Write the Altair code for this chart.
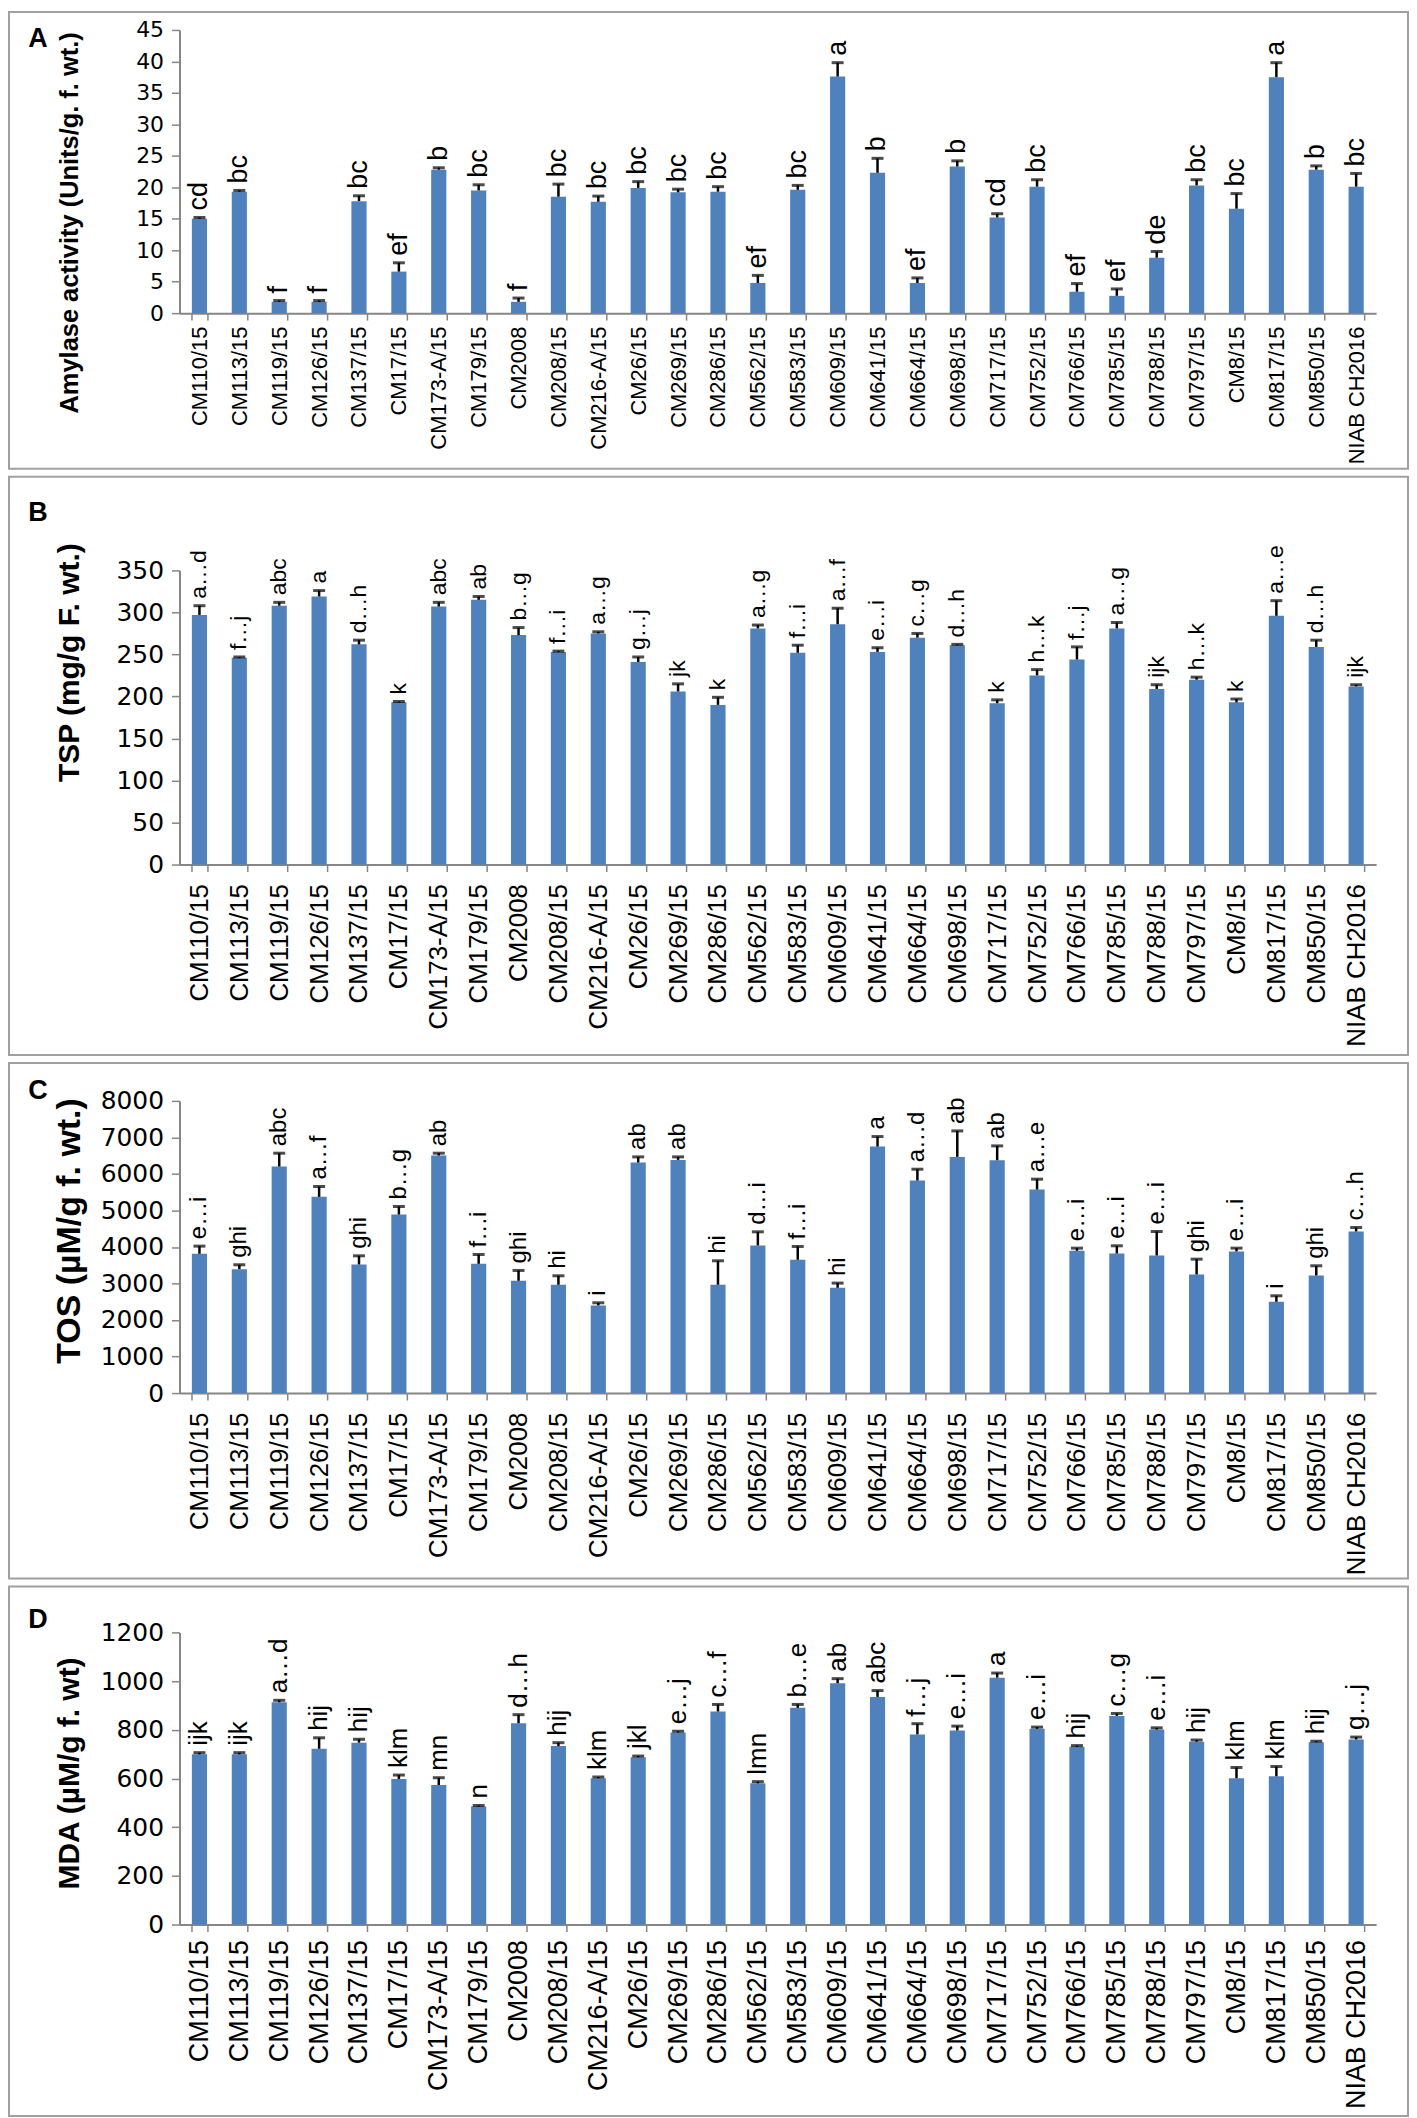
import altair as alt
import pandas as pd

categories = ["CM110/15", "CM113/15", "CM119/15", "CM126/15", "CM137/15", "CM17/15",
              "CM173-A/15", "CM179/15", "CM2008", "CM208/15", "CM216-A/15", "CM26/15",
              "CM269/15", "CM286/15", "CM562/15", "CM583/15", "CM609/15", "CM641/15",
              "CM664/15", "CM698/15", "CM717/15", "CM752/15", "CM766/15", "CM785/15",
              "CM788/15", "CM797/15", "CM8/15", "CM817/15", "CM850/15", "NIAB CH2016"]

amylase = [15.0, 19.3, 1.8, 1.8, 17.8, 6.6, 22.8, 19.5, 1.8, 18.5, 17.7, 19.9, 19.2, 19.3, 4.8,
           19.6, 37.6, 22.3, 4.8, 23.3, 15.2, 20.1, 3.4, 2.75, 8.8, 20.3, 16.6, 37.5, 22.8, 20.1]
amylase_err = [0.2, 0.2, 0.2, 0.2, 0.85, 1.4, 0.3, 0.9, 0.6, 2.0, 0.9, 1.0, 0.5, 0.8, 1.2,
               0.7, 2.2, 2.3, 0.8, 0.9, 0.6, 1.1, 1.3, 1.1, 1.0, 0.9, 2.4, 2.3, 0.6, 2.1]
amylase_letters = ["cd", "bc", "f", "f", "bc", "ef", "b", "bc", "f", "bc", "bc", "bc", "bc", "bc", "ef",
                   "bc", "a", "b", "ef", "b", "cd", "bc", "ef", "ef", "de", "bc", "bc", "a", "b", "bc"]

tsp = [297, 246, 308, 319, 262, 193, 307, 315, 273, 253, 275, 241, 206, 190, 281,
       252, 286, 253, 270, 261, 192, 225, 244, 281, 209, 220, 193, 296, 259, 212]
tsp_err = [11, 1, 4, 7, 5, 1, 5, 4, 9, 1, 2, 6, 9, 9, 4,
           9, 19, 5, 5, 1, 4, 7, 15, 7, 5, 3, 4, 18, 8, 2]
tsp_letters = ["a…d", "f…j", "abc", "a", "d…h", "k", "abc", "ab", "b…g", "f…i", "a…g", "g…j", "jk", "k", "a…g",
               "f…i", "a…f", "e…i", "c…g", "d…h", "k", "h…k", "f…j", "a…g", "ijk", "h…k", "k", "a…e", "d…h", "ijk"]

tos = [3813, 3393, 6203, 5373, 3521, 4889, 6504, 3539, 3074, 2965, 2399, 6312, 6385, 2965, 4041,
       3649, 2883, 6750, 5820, 6467, 6376, 5574, 3895, 3822, 3767, 3247, 3877, 2499, 3220, 4424]
tos_err = [210, 120, 365, 283, 237, 219, 64, 255, 283, 246, 73, 155, 82, 657, 374,
           365, 128, 274, 310, 711, 392, 283, 73, 210, 657, 420, 91, 164, 265, 110]
tos_letters = ["e…i", "ghi", "abc", "a…f", "ghi", "b…g", "ab", "f…i", "ghi", "hi", "i", "ab", "ab", "hi", "d…i",
               "f…i", "hi", "a", "a…d", "ab", "ab", "a…e", "e…i", "e…i", "e…i", "ghi", "e…i", "i", "ghi", "c…h"]

mda = [699, 699, 913, 722, 747, 598, 573, 485, 827, 733, 601, 687, 789, 875, 580,
       890, 991, 935, 781, 797, 1014, 804, 730, 857, 801, 751, 601, 609, 749, 760]
mda_err = [7, 7, 8, 45, 14, 16, 30, 4, 35, 14, 5, 5, 5, 29, 7,
           14, 19, 26, 44, 18, 19, 7, 5, 10, 7, 7, 44, 40, 4, 10]
mda_letters = ["ijk", "ijk", "a…d", "hij", "hij", "klm", "mn", "n", "d…h", "hij", "klm", "jkl", "e…j", "c…f", "lmn",
               "b…e", "ab", "abc", "f…j", "e…i", "a", "e…i", "hij", "c…g", "e…i", "hij", "klm", "klm", "hij", "g…j"]

BAR = "#4F81BD"
AXIS = "#868686"
BOX = "#A0A0A0"
FONT = "Liberation Sans"
TICKFONT = "DejaVu Sans"
W = 1200


def panel(vals, errs, letters, ymax, ystep, title, tag, h, box_top, box_bot,
          tag_y, label_size, label_pad, tick_size, title_size, title_y, letter_size):
    df = pd.DataFrame({"cat": categories, "v": vals, "e": errs, "lab": letters})
    df["top"] = df["v"] + df["e"]
    xaxis = alt.Axis(labelAngle=-90, labelFont=FONT, labelFontSize=label_size,
                     labelColor="black", labelPadding=label_pad, tickBand="extent",
                     tickColor=AXIS, tickSize=7, tickWidth=1.5,
                     domainColor=AXIS, domainWidth=2, labelAlign="right",
                     labelBaseline="middle", title=None)
    xscale = alt.Scale(paddingInner=0.62, paddingOuter=0.31)
    xenc = alt.X("cat:N", sort=categories, scale=xscale, axis=xaxis)
    yscale = alt.Scale(domain=[0, ymax], nice=False)
    yaxis = alt.Axis(values=list(range(0, ymax + 1, ystep)), format="d", labelOverlap=False,
                     grid=False, domainColor=AXIS,
                     domainWidth=2, tickColor=AXIS, tickSize=8, tickWidth=1.5,
                     labelFont=TICKFONT, labelFontSize=tick_size, labelColor="black",
                     labelPadding=8, title=title, titleFont=FONT, titleFontSize=title_size,
                     titleFontWeight="bold", titleColor="black", titleAngle=270,
                     titleAlign="center", titleBaseline="middle", titleX=-110, titleY=title_y)
    base = alt.Chart(df)
    bars = base.mark_bar(color=BAR).encode(
        x=xenc, y=alt.Y("v:Q", scale=yscale, axis=yaxis))
    err = base.mark_rule(color="black", strokeWidth=2.5).encode(
        x=xenc, y=alt.Y("v:Q", scale=yscale, axis=yaxis), y2="top:Q")
    cap = base.mark_tick(color="black", thickness=3, size=12).encode(
        x=xenc, y=alt.Y("top:Q", scale=yscale, axis=yaxis))
    txt = base.mark_text(align="left", baseline="middle", dx=7, font=FONT,
                         fontSize=letter_size, color="black").encode(
        x=xenc, y=alt.Y("top:Q", scale=yscale, axis=yaxis), text="lab:N",
        angle=alt.value(270))
    box_df = pd.DataFrame({"k": [tag]})
    box = alt.Chart(box_df).mark_rect(fillOpacity=0, stroke=BOX, strokeWidth=2).encode(
        x=alt.value(-171), x2=alt.value(W + 32), y=alt.value(box_top), y2=alt.value(box_bot))
    tg = alt.Chart(box_df).mark_text(font=FONT, fontSize=27, fontWeight="bold", color="black",
                                     align="center", baseline="middle").encode(
        x=alt.value(-142), y=alt.value(tag_y), text="k:N")
    return alt.layer(box, bars, err, cap, txt, tg).properties(width=W, height=h)


pA = panel(amylase, amylase_err, amylase_letters, 45, 5, "Amylase activity (Units/g. f. wt.)", "A",
           284, -18, 440, 9, 22, 6, 22, 25.5, 193, 27)
pB = panel(tsp, tsp_err, tsp_letters, 350, 50, "TSP (mg/g F. wt.)", "B",
           295, -94, 486, -58, 26, 12, 25, 30, 92, 23)
pC = panel(tos, tos_err, tos_letters, 8000, 1000, "TOS (µM/g f. wt.)", "C",
           293, -38, 479, -10, 26, 12, 25, 34, 130, 24)
pD = panel(mda, mda_err, mda_letters, 1200, 200, "MDA (µM/g f. wt)", "D",
           293, -46, 485, -12, 27, 8, 25, 30, 141, 26)

chart = alt.vconcat(pA, pB, pC, pD, spacing=6).properties(
    padding={"left": 0, "top": 0, "right": 0, "bottom": 0}).configure_view(strokeWidth=0)

chart.save("out.html", embed_options={"renderer": "svg", "actions": False})
